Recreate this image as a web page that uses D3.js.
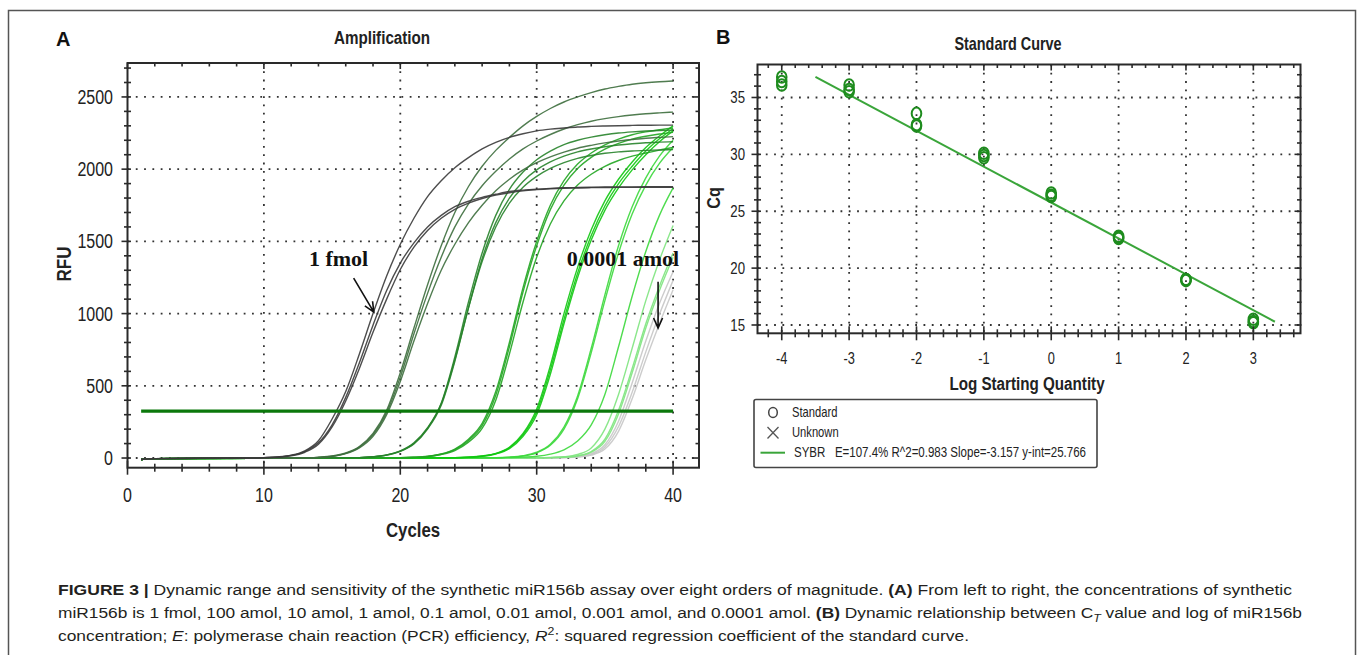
<!DOCTYPE html>
<html>
<head>
<meta charset="utf-8">
<script src="https://cdn.jsdelivr.net/npm/d3@7"></script>
<style>
  body { margin: 0; background: #fff; }
  svg { display: block; }
</style>
</head>
<body>
<svg id="fig" width="1358" height="655"></svg>
<script>
// ---- data ----
const concLabels = ["1 fmol", "100 amol", "10 amol", "1 amol", "0.1 amol", "0.01 amol", "0.001 amol", "0.0001 amol"];
const logQty = [3, 2, 1, 0, -1, -2, -3, -4];

// amplification wells: [first cycle listed, RFU per cycle up to 40]
const baselineRfu = [-10, -4]; // cycles 1 and 2
const amp1fmol = [
  [9, [0, 3, 8, 20, 50, 120, 270, 460, 720, 1000, 1260, 1480, 1660, 1810, 1920, 2010, 2080, 2140, 2185, 2220, 2245, 2265, 2277, 2285, 2292, 2296, 2299, 2301, 2303, 2304, 2305, 2305]],
  [9, [0, 3, 7, 18, 45, 105, 230, 420, 660, 920, 1160, 1350, 1490, 1600, 1680, 1740, 1778, 1805, 1826, 1845, 1855, 1862, 1867, 1871, 1873, 1875, 1876, 1877, 1877, 1878, 1878, 1878]],
  [9, [0, 2, 6, 15, 40, 95, 215, 395, 620, 870, 1100, 1305, 1460, 1575, 1660, 1722, 1765, 1797, 1820, 1837, 1850, 1858, 1864, 1868, 1870, 1872, 1873, 1874, 1874, 1875, 1875, 1875]]
];
const amp100amol = [
  [13, [0, 5, 14, 35, 80, 170, 330, 590, 900, 1200, 1470, 1700, 1880, 2020, 2130, 2220, 2300, 2365, 2420, 2465, 2500, 2530, 2555, 2573, 2588, 2598, 2605, 2610]],
  [13, [0, 4, 12, 32, 75, 160, 315, 560, 860, 1140, 1390, 1600, 1760, 1885, 1985, 2070, 2140, 2195, 2240, 2278, 2308, 2332, 2350, 2364, 2375, 2384, 2390, 2395]],
  [13, [0, 4, 11, 30, 70, 150, 300, 530, 810, 1070, 1300, 1480, 1630, 1750, 1850, 1930, 1995, 2045, 2085, 2118, 2145, 2165, 2182, 2195, 2205, 2214, 2220, 2225]]
];
const amp10amol = [
  [17, [3, 9, 22, 50, 105, 210, 380, 700, 1080, 1420, 1680, 1860, 1980, 2065, 2125, 2170, 2200, 2222, 2238, 2250, 2258, 2264, 2268, 2270]],
  [17, [3, 9, 21, 48, 100, 205, 375, 680, 1040, 1360, 1600, 1765, 1875, 1950, 2005, 2045, 2075, 2095, 2110, 2120, 2126, 2130, 2133, 2135]],
  [17, [3, 8, 20, 46, 98, 200, 365, 670, 1040, 1380, 1630, 1800, 1915, 1995, 2050, 2090, 2120, 2140, 2155, 2167, 2176, 2183, 2187, 2190]]
];
const amp1amol = [
  [20, [2, 5, 12, 28, 62, 130, 240, 460, 800, 1180, 1500, 1750, 1920, 2035, 2112, 2168, 2208, 2238, 2258, 2273, 2285]],
  [20, [2, 5, 11, 26, 58, 122, 225, 435, 770, 1150, 1470, 1720, 1890, 2005, 2082, 2138, 2178, 2208, 2228, 2243, 2255]],
  [20, [1, 4, 10, 24, 52, 110, 205, 400, 720, 1080, 1390, 1620, 1780, 1890, 1965, 2020, 2060, 2090, 2112, 2132, 2150]]
];
const amp01amol = [
  [24, [2, 6, 14, 32, 75, 170, 340, 640, 1000, 1320, 1580, 1780, 1930, 2050, 2150, 2230, 2300]],
  [24, [2, 5, 13, 30, 70, 160, 320, 610, 960, 1280, 1540, 1745, 1900, 2020, 2125, 2210, 2280]],
  [24, [2, 5, 12, 28, 65, 150, 300, 580, 930, 1250, 1510, 1715, 1870, 1995, 2100, 2190, 2265]]
];
const amp001amol = [
  [27, [2, 6, 16, 40, 95, 215, 430, 760, 1130, 1470, 1740, 1940, 2090, 2200]],
  [27, [2, 5, 13, 36, 88, 200, 410, 730, 1090, 1420, 1690, 1890, 2040, 2150]],
  [27, [1, 3, 6, 12, 27, 57, 118, 230, 440, 770, 1120, 1430, 1680, 1870]]
];
const amp0001amol = [
  [30, [2, 4, 9, 25, 70, 200, 440, 760, 1090, 1370, 1610]],
  [30, [1, 3, 6, 16, 45, 130, 330, 620, 930, 1190, 1420]],
  [30, [1, 3, 5, 14, 40, 115, 305, 590, 900, 1160, 1390]]
];
const amp00001amol = [
  [30, [1, 2, 4, 10, 30, 92, 255, 520, 810, 1070, 1290]],
  [30, [1, 2, 3, 8, 24, 76, 218, 455, 735, 995, 1230]],
  [30, [1, 2, 3, 7, 20, 62, 185, 410, 680, 930, 1165]]
];
const ampGroups = [amp1fmol, amp100amol, amp10amol, amp1amol, amp01amol, amp001amol, amp0001amol, amp00001amol];

const thresholdRfu = 325;
const thresholdCycles = [1, 40];

// standard curve: Cq of each replicate, same order as logQty
const cqValues = [
  [15.5, 15.3, 15.2],
  [19.0, 19.0, 18.9],
  [22.8, 22.7, 22.6],
  [26.6, 26.4, 26.3],
  [30.1, 29.9, 29.7],
  [33.6, 32.6, 32.5],
  [36.1, 35.7, 35.5],
  [36.8, 36.4, 36.1]
];
const fitSlope = -3.157;
const fitIntercept = 25.766;
const fitRange = [-3.5, 3.32];

const ampXTicks = [0, 10, 20, 30, 40];
const ampYTicks = [0, 500, 1000, 1500, 2000, 2500];
const stdXTicks = [-4, -3, -2, -1, 0, 1, 2, 3];
const stdYTicks = [15, 20, 25, 30, 35];

// ---- styles ----
const groupColors = ["#3a3a3a", "#3d6e3d", "#27832a", "#21a521", "#10c810", "#3bd83b", "#7ee47e", "#c6c6c6"];
const sans = "'Liberation Sans',Arial,sans-serif";
const serif = "'Liberation Serif','Times New Roman',serif";
const squeeze = 0.8; // no narrow font installed: squeeze Liberation Sans
const axisColor = "#2a2a2a";

const svg = d3.select("#fig");

// outer figure frame
svg.append("rect")
  .attr("x", 8.5).attr("y", 10.5)
  .attr("width", 1347).attr("height", 670)
  .attr("fill", "none").attr("stroke", "#555").attr("stroke-width", 1.5);

const xA = d3.scaleLinear().domain([0, 41.9]).range([127.5, 699]);
const yA = d3.scaleLinear().domain([-67, 2735]).range([467.7, 63]);
const xB = d3.scaleLinear().domain([-4.36, 3.7]).range([757.5, 1300.5]);
const yB = d3.scaleLinear().domain([14.27, 37.9]).range([333.3, 64.5]);

const drawGrid = (g, x, y, xs, ys) => {
  const [x0, x1] = x.range();
  const [y1, y0] = y.range();
  const dots = sel => sel
    .attr("stroke", "#333")
    .attr("stroke-width", 1.8)
    .attr("stroke-dasharray", "1.8,6.5");
  g.append("g").selectAll("line").data(xs).join("line")
    .attr("x1", d => x(d)).attr("x2", d => x(d))
    .attr("y1", y0).attr("y2", y1)
    .call(dots);
  g.append("g").selectAll("line").data(ys).join("line")
    .attr("x1", x0).attr("x2", x1)
    .attr("y1", d => y(d)).attr("y2", d => y(d))
    .call(dots);
};

// tick marks on all four sides; minor ones cross the axis
const drawTicks = (g, x, y, minorX, majorX, minorY, majorY) => {
  const [x0, x1] = x.range();
  const [y1, y0] = y.range();
  const isMajor = (list, v) => list.some(m => Math.abs(m - v) < 1e-6);
  const t = g.append("g").attr("stroke", axisColor).attr("stroke-width", 1.6);
  minorX.forEach(v => {
    const big = isMajor(majorX, v);
    const px = x(v);
    t.append("line").attr("x1", px).attr("x2", px)
      .attr("y1", y1 - (big ? 7 : 4)).attr("y2", y1 + (big ? 7 : 4));
    t.append("line").attr("x1", px).attr("x2", px)
      .attr("y1", y0).attr("y2", y0 + (big ? 6 : 3.5));
  });
  minorY.forEach(v => {
    const big = isMajor(majorY, v);
    const py = y(v);
    t.append("line").attr("y1", py).attr("y2", py)
      .attr("x1", x0 - (big ? 6 : 3.5)).attr("x2", x0 + 3.5);
    t.append("line").attr("y1", py).attr("y2", py)
      .attr("x1", x1 - (big ? 6 : 3.5)).attr("x2", x1 + 1);
  });
  g.append("rect")
    .attr("x", x0).attr("y", y0)
    .attr("width", x1 - x0).attr("height", y1 - y0)
    .attr("fill", "none").attr("stroke", axisColor).attr("stroke-width", 2);
};

// text helper: condensed sans by default (horizontal squeeze)
const addText = (g, txt, x, y, opts) => {
  const sx = opts.sx === undefined ? squeeze : opts.sx;
  const tf = opts.rotate
    ? `translate(${x},${y}) rotate(-90) scale(${sx},1)`
    : `translate(${x},${y}) scale(${sx},1)`;
  return g.append("text")
    .attr("transform", tf)
    .attr("font-family", opts.family || sans)
    .attr("font-size", opts.size)
    .attr("font-weight", opts.weight || "normal")
    .attr("fill", opts.fill || "#222")
    .attr("text-anchor", opts.anchor || "middle")
    .text(txt);
};

// ================= Panel A : amplification =================
const gA = svg.append("g");
addText(gA, "A", 56, 46, { size: 20, weight: "bold", anchor: "start", fill: "#111", sx: 1 });
addText(gA, "Amplification", 382, 44, { size: 19, weight: "bold" });

drawGrid(gA, xA, yA, ampXTicks.slice(1), ampYTicks);

const line = d3.line()
  .x(d => xA(d[0]))
  .y(d => yA(d[1]))
  .curve(d3.curveMonotoneX);

const wellPoints = ([start, vals]) => [
  [1, baselineRfu[0]],
  [2, baselineRfu[1]],
  ...vals.map((v, i) => [start + i, v])
];

const curves = gA.append("g").attr("fill", "none");
ampGroups.slice().reverse().forEach((wells, ri) => {
  const gi = ampGroups.length - 1 - ri;
  curves.append("g")
    .selectAll("path")
    .data(wells)
    .join("path")
    .attr("d", w => line(wellPoints(w)))
    .attr("stroke", groupColors[gi])
    .attr("stroke-width", 1.4)
    .attr("stroke-opacity", 0.9);
});

gA.append("line")
  .attr("x1", xA(thresholdCycles[0])).attr("x2", xA(thresholdCycles[1]))
  .attr("y1", yA(thresholdRfu)).attr("y2", yA(thresholdRfu))
  .attr("stroke", "#0b780b").attr("stroke-width", 3.2);

drawTicks(gA, xA, yA,
  d3.range(0, 41, 2), ampXTicks,
  d3.range(0, 2701, 100), ampYTicks);

ampXTicks.forEach(v => addText(gA, v, xA(v), 502, { size: 20 }));
ampYTicks.forEach(v => addText(gA, v, 113, yA(v) + 7, { size: 20, anchor: "end" }));
addText(gA, "Cycles", 413, 537, { size: 21, weight: "bold" });
addText(gA, "RFU", 71, 264, { size: 20, weight: "bold", rotate: true, sx: 0.85 });

// annotations (data coordinates)
const arrow = (g, from, to) => {
  const [ax, ay] = [xA(from[0]), yA(from[1])];
  const [bx, by] = [xA(to[0]), yA(to[1])];
  const ang = Math.atan2(by - ay, bx - ax);
  const head = 11, spread = 0.42;
  const p = d3.path();
  p.moveTo(ax, ay); p.lineTo(bx, by);
  p.moveTo(bx - head * Math.cos(ang - spread), by - head * Math.sin(ang - spread));
  p.lineTo(bx, by);
  p.lineTo(bx - head * Math.cos(ang + spread), by - head * Math.sin(ang + spread));
  g.append("path").attr("d", p.toString())
    .attr("fill", "none").attr("stroke", "#111").attr("stroke-width", 1.6);
};
addText(gA, concLabels[0], xA(13.3), yA(1330), { family: serif, size: 22, weight: "bold", anchor: "start", fill: "#111", sx: 1 });
arrow(gA, [16.58, 1246], [18.06, 1010]);
addText(gA, concLabels[7], xA(32.2), yA(1330), { family: serif, size: 22, weight: "bold", anchor: "start", fill: "#111", sx: 1 });
arrow(gA, [38.9, 1221], [38.9, 900]);

// ================= Panel B : standard curve =================
const gB = svg.append("g");
addText(gB, "B", 716, 44, { size: 20, weight: "bold", anchor: "start", fill: "#111", sx: 1 });
addText(gB, "Standard Curve", 1008, 50, { size: 18, weight: "bold" });

drawGrid(gB, xB, yB, stdXTicks, stdYTicks);

gB.append("line")
  .attr("x1", xB(fitRange[0])).attr("y1", yB(fitIntercept + fitSlope * fitRange[0]))
  .attr("x2", xB(fitRange[1])).attr("y2", yB(fitIntercept + fitSlope * fitRange[1]))
  .attr("stroke", "#3aa53a").attr("stroke-width", 2);

const pts = logQty.flatMap((q, i) => cqValues[i].map(cq => [q, cq]));
gB.append("g").selectAll("ellipse").data(pts).join("ellipse")
  .attr("cx", d => xB(d[0])).attr("cy", d => yB(d[1]))
  .attr("rx", 4.8).attr("ry", 5.8)
  .attr("fill", "none").attr("stroke", "#1e8c1e").attr("stroke-width", 2);

drawTicks(gB, xB, yB,
  d3.range(-42, 37, 2).map(v => v / 10), stdXTicks,
  d3.range(15, 38, 1), stdYTicks);

stdXTicks.forEach(v => addText(gB, v, xB(v), 364, { size: 16 }));
stdYTicks.forEach(v => addText(gB, v, 745, yB(v) + 6, { size: 16.5, anchor: "end" }));
addText(gB, "Log Starting Quantity", 1027, 390, { size: 19, weight: "bold" });
addText(gB, "Cq", 720, 198, { size: 18, weight: "bold", rotate: true, sx: 0.9 });

// legend
const lg = gB.append("g");
lg.append("rect")
  .attr("x", 754).attr("y", 399.5).attr("width", 343).attr("height", 68).attr("rx", 2)
  .attr("fill", "#fff").attr("stroke", "#444").attr("stroke-width", 1.6);
lg.append("ellipse").attr("cx", 773).attr("cy", 412.5).attr("rx", 4.3).attr("ry", 5)
  .attr("fill", "none").attr("stroke", "#444").attr("stroke-width", 1.5);
lg.append("path").attr("d", "M767.5,427 L778.5,438.5 M778.5,427 L767.5,438.5")
  .attr("stroke", "#555").attr("stroke-width", 1.3);
lg.append("line").attr("x1", 760.5).attr("x2", 785).attr("y1", 452.7).attr("y2", 452.7)
  .attr("stroke", "#3aa53a").attr("stroke-width", 2);
addText(lg, "Standard", 792, 417, { size: 14, anchor: "start" });
addText(lg, "Unknown", 792, 437, { size: 14, anchor: "start" });
addText(lg, "SYBR\u00a0\u00a0\u00a0E=107.4% R^2=0.983 Slope=-3.157 y-int=25.766", 794, 457, { size: 14, anchor: "start", sx: 1 })
  .attr("textLength", 292).attr("lengthAdjust", "spacingAndGlyphs");

// ================= caption =================
const cap = svg.append("g")
  .attr("font-family", sans).attr("font-size", 15.5).attr("fill", "#231f20");
const capLine = (y, width, parts) => {
  const t = cap.append("text").attr("x", 58).attr("y", y)
    .attr("textLength", width).attr("lengthAdjust", "spacingAndGlyphs");
  parts.forEach(p => {
    const s = t.append("tspan").text(p.t);
    if (p.b) s.attr("font-weight", "bold");
    if (p.i) s.attr("font-style", "italic");
    if (p.dy) s.attr("dy", p.dy);
    if (p.small) s.attr("font-size", 11);
  });
};
capLine(595, 1234, [
  { t: "FIGURE 3 |", b: true },
  { t: " Dynamic range and sensitivity of the synthetic miR156b assay over eight orders of magnitude. " },
  { t: "(A)", b: true },
  { t: " From left to right, the concentrations of synthetic" }
]);
capLine(618, 1244, [
  { t: "miR156b is 1 fmol, 100 amol, 10 amol, 1 amol, 0.1 amol, 0.01 amol, 0.001 amol, and 0.0001 amol. " },
  { t: "(B)", b: true },
  { t: " Dynamic relationship between C" },
  { t: "T", i: true, dy: 4, small: true },
  { t: " value and log of miR156b", dy: -4 }
]);
capLine(641, 911, [
  { t: "concentration; " },
  { t: "E", i: true },
  { t: ": polymerase chain reaction (PCR) efficiency, " },
  { t: "R", i: true },
  { t: "2", dy: -6, small: true },
  { t: ": squared regression coefficient of the standard curve.", dy: 6 }
]);
</script>
</body>
</html>
